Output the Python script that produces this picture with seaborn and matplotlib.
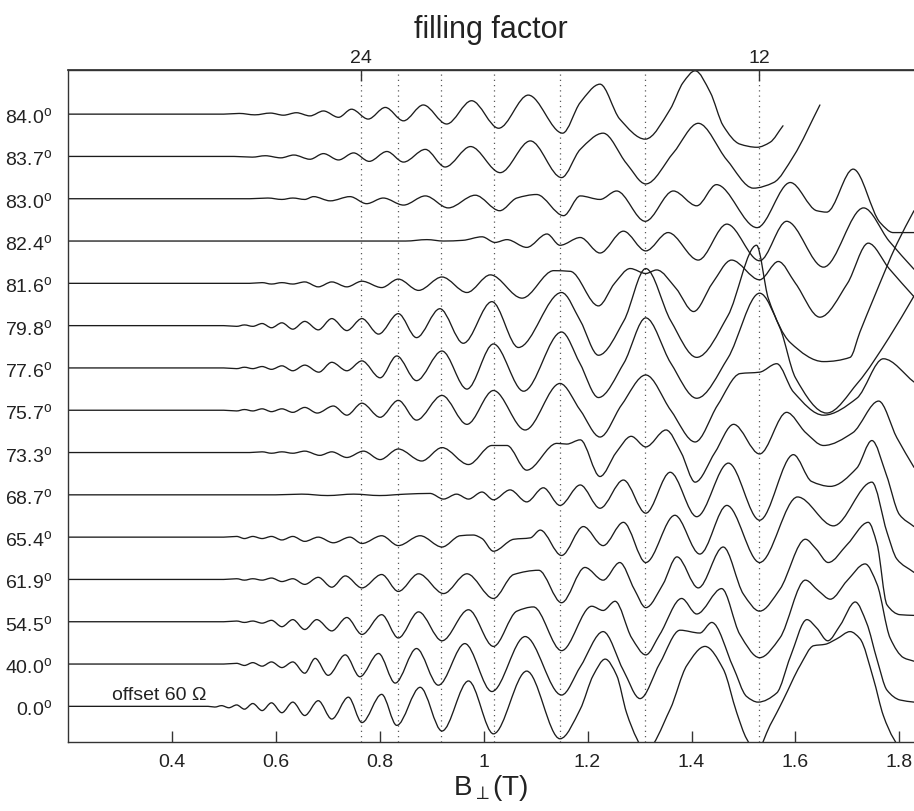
import matplotlib
matplotlib.use("Agg")
import matplotlib.pyplot as plt
from matplotlib.ticker import NullLocator
from matplotlib.path import Path
from matplotlib.patches import PathPatch
import numpy as np
import pandas as pd
import seaborn as sns

# ---------------- data ----------------
ANGLES = ["0.0", "40.0", "54.5", "61.9", "65.4", "68.7", "73.3", "75.7",
          "77.6", "79.8", "81.6", "82.4", "83.0", "83.7", "84.0"]

# B_perp (T) and resistance deviation (Ohm) at the extrema of each trace
B_00 = [0.2, 0.47, 0.483, 0.496, 0.510, 0.525, 0.540, 0.556, 0.574, 0.592, 0.612, 0.633, 0.656, 0.682, 0.708, 0.740,
        0.766, 0.804, 0.833, 0.878, 0.920, 0.971, 1.019, 1.083, 1.147, 1.186, 1.211, 1.234, 1.256, 1.275, 1.295, 1.31,
        1.359, 1.391, 1.426, 1.461, 1.487, 1.506, 1.525, 1.551, 1.564, 1.577, 1.609, 1.635, 1.657, 1.680, 1.705, 1.724,
        1.750, 1.769, 1.789, 1.808, 1.83]
R_00 = [0, 0, -1, 1, -2, 2, -4, 4, -6, 5, -9, 6, -13, 8, -18, 13, -23, 17, -27, 27, -35, 36, -39, 50, -46, -4, 44, 67,
        44, -9, -46, -64, -4, 58, 85, 53, -9, -46, -64, -27, -9, 10, 58, 86, 88, 96, 106, 96, 39, -13, -46, -64, -64]

B_40 = [0.2, 0.50, 0.525, 0.540, 0.556, 0.574, 0.592, 0.612, 0.633, 0.656, 0.676, 0.701, 0.734, 0.762, 0.798, 0.830,
        0.871, 0.913, 0.964, 1.016, 1.080, 1.150, 1.186, 1.230, 1.269, 1.301, 1.339, 1.378, 1.416, 1.439, 1.480, 1.506,
        1.528, 1.564, 1.590, 1.622, 1.641, 1.662, 1.686, 1.715, 1.737, 1.757, 1.776, 1.801, 1.828]
R_40 = [0, 0, 1, -2, 2, -3, 3, -5, 3, -13, 8, -16, 13, -18, 15, -27, 22, -30, 29, -39, 39, -44, -4, 46, -9, -49, 1,
        48, 44, 59, -4, -46, -54, -41, 10, 63, 51, 33, 55, 88, 58, 6, -37, -51, -54]

B_545 = [0.2, 0.50, 0.525, 0.540, 0.556, 0.574, 0.592, 0.612, 0.633, 0.656, 0.679, 0.708, 0.737, 0.766, 0.804, 0.836,
         0.875, 0.920, 0.971, 1.019, 1.064, 1.096, 1.150, 1.208, 1.230, 1.253, 1.285, 1.312, 1.339, 1.381, 1.410,
         1.458, 1.493, 1.531, 1.570, 1.619, 1.644, 1.667, 1.699, 1.734, 1.757, 1.782, 1.808, 1.828]
R_545 = [0, 0, 1, -1, 1, -2, 2, -7, 3, -11, 3, -13, 6, -18, 10, -23, 14, -27, 17, -35, 15, 21, -41, 22, 16, 29, -23,
         -47, -18, 33, 11, 47, -18, -51, -23, 59, 44, 32, 58, 82, 53, -23, -51, -56]

B_619 = [0.2, 0.50, 0.525, 0.540, 0.556, 0.574, 0.592, 0.612, 0.633, 0.656, 0.682, 0.708, 0.734, 0.766, 0.804, 0.836,
         0.875, 0.923, 0.968, 1.019, 1.058, 1.106, 1.150, 1.195, 1.230, 1.262, 1.290, 1.312, 1.345, 1.372, 1.413,
         1.461, 1.500, 1.531, 1.570, 1.619, 1.640, 1.663, 1.700, 1.740, 1.757, 1.776, 1.801, 1.828]
R_619 = [0, 0, 1, -1, 1, -1, 2, -3, 1, -7, 3, -11, 5, -12, 7, -17, 8, -20, 8, -27, 7, 13, -33, 17, -1, 24, -14, -40,
         -7, 32, -12, 46, -21, -45, -14, 57, 43, 24, 50, 81, 50, -36, -50, -51]

B_654 = [0.2, 0.50, 0.525, 0.540, 0.556, 0.574, 0.592, 0.612, 0.633, 0.656, 0.682, 0.711, 0.743, 0.766, 0.804, 0.836,
         0.878, 0.920, 0.955, 0.980, 0.997, 1.019, 1.058, 1.090, 1.109, 1.150, 1.192, 1.230, 1.269, 1.312, 1.368,
         1.416, 1.468, 1.531, 1.604, 1.673, 1.747, 1.776, 1.795, 1.828]
R_654 = [0, 0, 1, -2, 1, -2, 1, -4, 1, -6, 0, -8, 0, -9, 2, -12, 2, -14, 2, 3, -2, -20, -3, -1, 10, -26, 15, -12, 21,
         -36, 31, -24, 45, -36, 57, 16, 78, 7, -31, -50]

B_687 = [0.2, 0.60, 0.65, 0.70, 0.75, 0.80, 0.85, 0.897, 0.923, 0.948, 0.971, 0.997, 1.019, 1.051, 1.083, 1.115,
         1.147, 1.186, 1.224, 1.269, 1.312, 1.359, 1.410, 1.471, 1.531, 1.596, 1.631, 1.667, 1.718, 1.747, 1.775,
         1.800, 1.828]
R_687 = [0, 0, 1, -1, 1, -1, 1, 2, -6, 1, -6, 4, -7, 7, -10, 10, -15, 14, -19, 21, -26, 32, -31, 45, -36, 57, 19, 12,
         38, 77, 28, -28, -45]

B_733 = [0.2, 0.55, 0.574, 0.592, 0.612, 0.633, 0.656, 0.685, 0.708, 0.737, 0.769, 0.801, 0.836, 0.881, 0.920, 0.971,
         1.016, 1.045, 1.083, 1.141, 1.160, 1.186, 1.224, 1.255, 1.284, 1.312, 1.351, 1.380, 1.407, 1.445, 1.481,
         1.531, 1.583, 1.620, 1.654, 1.710, 1.760, 1.795, 1.828]
R_733 = [0, 0, 1, -1, 1, -1, 2, -4, 1, -7, 2, -10, 5, -12, 7, -17, 10, 10, -25, 13, 12, 18, -34, 0, 23, 8, 32, 0, -42,
         0, 40, -2, 57, 28, 10, 28, 73, 21, -21]

B_757 = [0.2, 0.50, 0.525, 0.540, 0.556, 0.574, 0.592, 0.612, 0.633, 0.656, 0.680, 0.711, 0.737, 0.766, 0.801, 0.836,
         0.871, 0.920, 0.968, 1.019, 1.080, 1.147, 1.186, 1.224, 1.265, 1.312, 1.360, 1.407, 1.450, 1.4935, 1.531,
         1.564, 1.596, 1.654, 1.718, 1.769, 1.828]
R_757 = [0, 0, -1, 1, -1, 2, -2, 2, -3, 4, -4, 6, -7, 10, -10, 14, -14, 21, -20, 28, -28, 38, 0, -38, 7, 50, 0, -45,
         7, 52, 54, 66, 26, -7, 17, 73, 40]

B_776 = [0.2, 0.50, 0.525, 0.540, 0.556, 0.574, 0.592, 0.612, 0.633, 0.656, 0.683, 0.708, 0.737, 0.766, 0.801, 0.833,
         0.871, 0.920, 0.968, 1.019, 1.077, 1.150, 1.185, 1.221, 1.270, 1.312, 1.360, 1.410, 1.470, 1.531, 1.570,
         1.600, 1.660, 1.720, 1.780, 1.828]
R_776 = [0, 0, -1, 1, -1, 2, -2, 3, -4, 4, -6, 8, -4, 10, -14, 17, -18, 24, -30, 34, -33, 51, 7, -42, 7, 71, 7, -43,
         14, 106, 57, -14, -64, -21, 43, 102]

B_798 = [0.2, 0.50, 0.525, 0.540, 0.556, 0.574, 0.592, 0.612, 0.633, 0.656, 0.682, 0.708, 0.737, 0.766, 0.798, 0.836,
         0.871, 0.916, 0.961, 1.016, 1.067, 1.150, 1.186, 1.221, 1.270, 1.312, 1.360, 1.410, 1.470, 1.525, 1.548,
         1.590, 1.654, 1.705, 1.724, 1.750, 1.795, 1.828]
R_798 = [0, 0, -1, 1, -1, 3, -3, 4, -5, 6, -6, 10, -7, 10, -12, 17, -17, 24, -25, 34, -31, 47, 7, -42, 7, 81, 7, -45,
         14, 114, 38, -24, -51, -45, -9, 38, 116, 163]

B_816 = [0.2, 0.55, 0.574, 0.592, 0.612, 0.633, 0.656, 0.682, 0.708, 0.737, 0.766, 0.804, 0.836, 0.875, 0.920, 0.968,
         1.013, 1.074, 1.135, 1.167, 1.221, 1.252, 1.282, 1.312, 1.333, 1.370, 1.404, 1.440, 1.477, 1.531, 1.567,
         1.600, 1.647, 1.700, 1.740, 1.780, 1.828]
R_816 = [0, 0, 1, -1, 1, -1, 2, -5, 2, -5, 3, -6, 6, -10, 9, -13, 12, -21, 18, 17, -32, 0, 21, 14, 19, -7, -40, 0, 33,
         5, 31, 0, -48, 0, 57, 21, -19]

B_824 = [0.2, 0.85, 0.891, 0.923, 0.960, 0.997, 1.022, 1.045, 1.083, 1.122, 1.147, 1.186, 1.224, 1.269, 1.312, 1.355,
         1.413, 1.468, 1.531, 1.583, 1.654, 1.731, 1.780, 1.828]
R_824 = [0, 0, 2, 0, 1, 6, -2, 2, -9, 10, -6, 5, -17, 14, -14, 12, -27, 24, -28, 28, -37, 47, 0, -40]

B_830 = [0.2, 0.55, 0.585, 0.612, 0.633, 0.656, 0.673, 0.705, 0.743, 0.775, 0.807, 0.846, 0.888, 0.932, 0.984, 1.031,
         1.064, 1.102, 1.154, 1.186, 1.224, 1.256, 1.311, 1.365, 1.410, 1.448, 1.526, 1.590, 1.641, 1.660, 1.711,
         1.763, 1.788, 1.828]
R_830 = [0, 0, 1, -1, 1, -1, 3, -3, 3, -7, 1, -9, 4, -13, 5, -17, 1, 6, -24, 4, -1, 11, -32, 11, -10, 20, -41, 23,
         -17, -19, 42, -34, -48, -48]

B_837 = [0.2, 0.52, 0.555, 0.58, 0.61, 0.635, 0.666, 0.692, 0.721, 0.750, 0.780, 0.814, 0.846, 0.888, 0.926, 0.975,
         1.032, 1.090, 1.150, 1.186, 1.230, 1.275, 1.312, 1.365, 1.413, 1.468, 1.519, 1.558, 1.596, 1.647]
R_837 = [0, 0, -1, 1, -2, 2, -4, 4, -5, 5, -7, 7, -8, 10, -15, 14, -23, 22, -30, 10, 33, -10, -39, 5, 47, -5, -45,
         -37, 0, 73]

B_840 = [0.20, 0.50, 0.53, 0.56, 0.59, 0.615, 0.64, 0.666, 0.692, 0.721, 0.746, 0.778, 0.811, 0.846, 0.884, 0.929,
         0.977, 1.029, 1.086, 1.152, 1.186, 1.224, 1.262, 1.311, 1.359, 1.384, 1.407, 1.436, 1.461, 1.493, 1.526,
         1.551, 1.576]
R_840 = [0, 0, 1, -1, 1.5, -1.5, 2, -2.5, 4.5, -4.5, 7, -7, 9.5, -9.5, 13, -14, 19, -20, 27, -27, 16.5, 42.5, -7,
         -35.5, 7, 45, 61.5, 31, -16.5, -42.5, -47, -40, -16.5]

OFFSET = 60.0                      # Ohm between consecutive traces
NU_TIMES_B = 18.36                 # T : B_perp at filling factor nu is NU_TIMES_B / nu
FILLING_LINES = [24, 22, 20, 18, 16, 14, 12]
FILLING_LABELS = [24, 12]
XTICKS = [0.4, 0.6, 0.8, 1.0, 1.2, 1.4, 1.6, 1.8]
XTICK_LABELS = ["0.4", "0.6", "0.8", "1", "1.2", "1.4", "1.6", "1.8"]

TRACES = [(B_00, R_00), (B_40, R_40), (B_545, R_545), (B_619, R_619), (B_654, R_654),
          (B_687, R_687), (B_733, R_733), (B_757, R_757), (B_776, R_776), (B_798, R_798),
          (B_816, R_816), (B_824, R_824), (B_830, R_830), (B_837, R_837), (B_840, R_840)]

# ---------------- build long-form table ----------------
frames = []
for i, (ang, (b, r)) in enumerate(zip(ANGLES, TRACES)):
    d = pd.DataFrame({"B": b, "R": r})
    d["y"] = d["R"] + OFFSET * i
    d["angle"] = ang
    frames.append(d)
df = pd.concat(frames, ignore_index=True)


def smooth_path(xy):
    """Cubic Bezier path through the given points (monotone tangents,
    flat at the extrema) - a rendering style for the seaborn line."""
    x, y = xy[:, 0], xy[:, 1]
    h = np.diff(x)
    d = np.diff(y) / h
    m = np.zeros(len(x))
    for k in range(1, len(x) - 1):
        if d[k - 1] * d[k] > 0:
            w1, w2 = 2 * h[k] + h[k - 1], h[k] + 2 * h[k - 1]
            m[k] = (w1 + w2) / (w1 / d[k - 1] + w2 / d[k])
    m[-1] = d[-1]
    verts, codes = [(x[0], y[0])], [Path.MOVETO]
    for k in range(len(x) - 1):
        verts += [(x[k] + h[k] / 3, y[k] + m[k] * h[k] / 3),
                  (x[k + 1] - h[k] / 3, y[k + 1] - m[k + 1] * h[k] / 3),
                  (x[k + 1], y[k + 1])]
        codes += [Path.CURVE4] * 3
    return Path(verts, codes)


# ---------------- style ----------------
sns.set_theme(style="ticks")
plt.rcParams["font.family"] = ["Liberation Sans", "DejaVu Sans"]
plt.rcParams["mathtext.fontset"] = "custom"
plt.rcParams["mathtext.rm"] = "Liberation Sans"
plt.rcParams["mathtext.it"] = "Liberation Sans:italic"
plt.rcParams["mathtext.bf"] = "Liberation Sans:bold"
plt.rcParams["mathtext.fallback"] = "stixsans"

W, H = 914, 812
fig = plt.figure(figsize=(W / 100, H / 100), dpi=100)
left, right, top, bottom = 67.7, 914.0, 71.0, 743.3
ax = fig.add_axes([left / W, 1 - bottom / H, (right - left) / W, (bottom - top) / H])

sns.lineplot(data=df, x="B", y="y", units="angle", estimator=None, sort=False,
             color="#1c1c1c", linewidth=0.95, ax=ax, legend=False)

# draw the seaborn lines as smooth curves through their own data points
for line in list(ax.lines):
    patch = PathPatch(smooth_path(line.get_xydata()), fill=False,
                      edgecolor=line.get_color(), linewidth=line.get_linewidth(),
                      joinstyle="round", capstyle="round")
    ax.add_patch(patch)
    line.remove()

for nu in FILLING_LINES:
    ax.axvline(NU_TIMES_B / nu, color="0.35", lw=0.9, ls=(0, (1, 3.2)), zorder=0)

ax.set_xlim(0.2, 1.828)
ax.set_ylim(-51, 902.6)

ax.set_xticks(XTICKS, XTICK_LABELS)
ax.tick_params(axis="x", direction="in", length=8, width=1, labelsize=14, pad=8,
               color="#333333", labelcolor="#222222")
ax.set_yticks([OFFSET * i for i in range(len(ANGLES))],
              [a + r"$^{\rm o}$" for a in ANGLES])
ax.tick_params(axis="y", length=0, pad=11, labelsize=14, labelcolor="#222222")

for s in ["left", "bottom", "top"]:
    ax.spines[s].set_color("#333333")
    ax.spines[s].set_linewidth(1.0)
ax.spines["right"].set_visible(False)

sec = ax.secondary_xaxis("top", functions=(lambda b: NU_TIMES_B / b, lambda n: NU_TIMES_B / n))
sec.set_xticks(FILLING_LABELS, [str(n) for n in FILLING_LABELS])
sec.xaxis.set_minor_locator(NullLocator())
sec.tick_params(axis="x", direction="in", length=8, width=1, labelsize=14, pad=3,
                color="#333333", labelcolor="#222222")
sec.spines["top"].set_color("#333333")

ax.set_xlabel(r"B$_{\perp}$(T)", fontsize=20, labelpad=1, color="#222222")
ax.set_ylabel("")
ax.set_title("filling factor", fontsize=22, y=1 + 41 / (bottom - top), va="center", pad=0,
             color="#222222")

ax.text(0.285, 17, "offset 60 \u03a9", fontsize=14, ha="left", va="center", color="#222222")

fig.savefig("out.png", dpi=100)
